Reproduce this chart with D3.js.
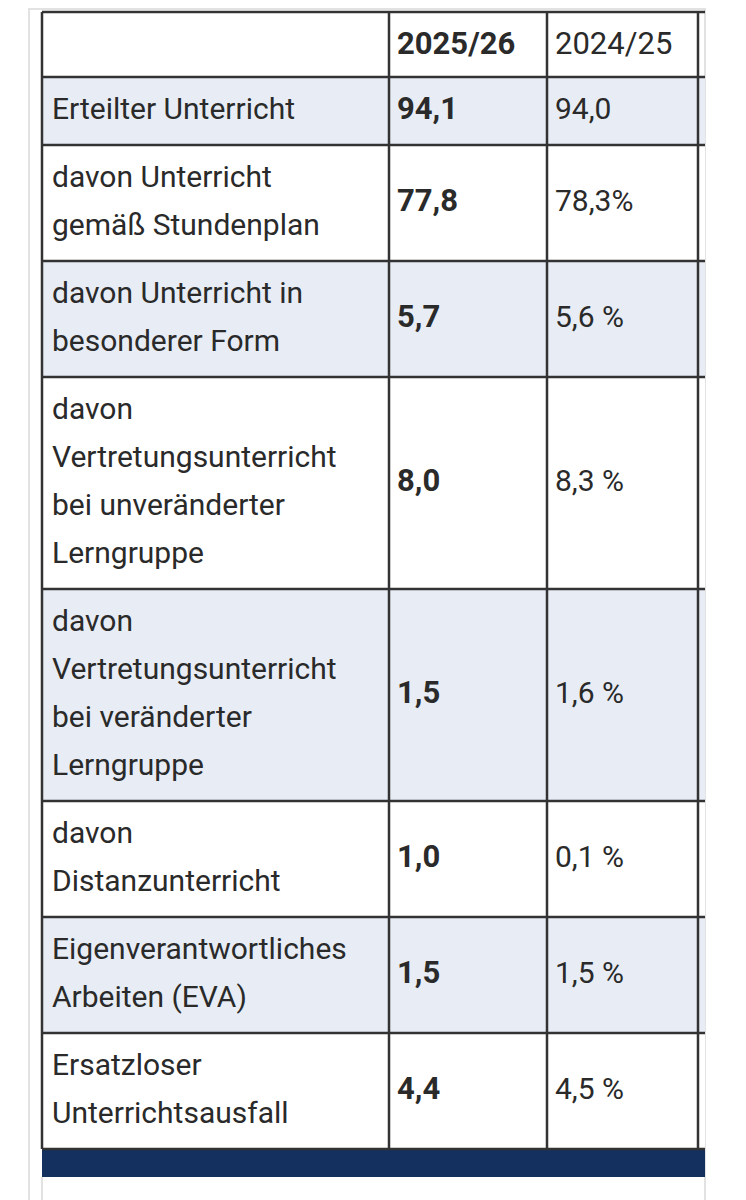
<!DOCTYPE html>
<html><head><meta charset="utf-8">
<script src="https://cdn.jsdelivr.net/npm/d3@7"></script>
<style>body{margin:0;background:#fff}</style>
</head><body><svg id="c" width="746" height="1200"></svg>
<script>
const headers = ["", "2025/26", "2024/25"];
const labels = [
  ["Erteilter Unterricht"],
  ["davon Unterricht", "gemäß Stundenplan"],
  ["davon Unterricht in", "besonderer Form"],
  ["davon", "Vertretungsunterricht", "bei unveränderter", "Lerngruppe"],
  ["davon", "Vertretungsunterricht", "bei veränderter", "Lerngruppe"],
  ["davon", "Distanzunterricht"],
  ["Eigenverantwortliches", "Arbeiten (EVA)"],
  ["Ersatzloser", "Unterrichtsausfall"]
];
const current = ["94,1", "77,8", "5,7", "8,0", "1,5", "1,0", "1,5", "4,4"];
const previous = ["94,0", "78,3%", "5,6 %", "8,3 %", "1,6 %", "0,1 %", "1,5 %", "4,5 %"];

const font = "'Liberation Sans Narrow', 'Roboto', sans-serif";
const svg = d3.select("#c");
const colX = [42, 389, 547, 698, 705];
const tableTop = 12, headH = 65, lineH = 48;

// row extents from line counts
let y = tableTop + headH;
const rows = labels.map((l, i) => {
  const h = 20 + lineH * l.length;
  const r = {i, y0: y, h};
  y += h;
  return r;
});
const bottom = y;

// outer light frame
svg.append("rect").attr("x", 29).attr("y", 9).attr("width", 676).attr("height", 1200)
  .attr("fill", "none").attr("stroke", "#e2e2e2").attr("stroke-width", 2);

svg.selectAll(".bg").data(rows).join("rect")
  .attr("x", colX[0]).attr("y", d => d.y0).attr("width", colX[4] - colX[0]).attr("height", d => d.h)
  .attr("fill", d => d.i % 2 === 0 ? "#e8edf5" : "#fff");

// navy footer bar
svg.append("rect").attr("x", colX[0]).attr("y", bottom).attr("width", colX[4] - colX[0]).attr("height", 28)
  .attr("fill", "#13305f");
svg.append("line").attr("x1", colX[0]).attr("x2", colX[0]).attr("y1", bottom + 28).attr("y2", 1200)
  .attr("stroke", "#e2e2e2").attr("stroke-width", 2);

// grid lines
const hy = [tableTop, tableTop + headH].concat(rows.map(r => r.y0 + r.h));
svg.selectAll(".hl").data(hy).join("line")
  .attr("x1", colX[0]).attr("x2", colX[4]).attr("y1", d => d).attr("y2", d => d)
  .attr("stroke", "#333").attr("stroke-width", 2.5);
svg.selectAll(".vl").data(colX.slice(0, 4)).join("line")
  .attr("x1", d => d).attr("x2", d => d).attr("y1", tableTop).attr("y2", bottom)
  .attr("stroke", "#333").attr("stroke-width", 2.5);

// header
svg.selectAll(".h").data(headers).join("text")
  .attr("x", (d, i) => colX[i] + 8).attr("y", tableTop + headH / 2 + 1)
  .attr("dominant-baseline", "middle").attr("font-family", font).attr("font-size", 31)
  .attr("font-weight", (d, i) => i === 1 ? "bold" : "normal").attr("fill", "#2a2a2a").text(d => d);

// labels
rows.forEach(r => {
  const l = labels[r.i];
  const cy = r.y0 + r.h / 2;
  svg.append("g").selectAll("text").data(l).join("text")
    .attr("x", colX[0] + 10).attr("y", (d, k) => cy + (k - (l.length - 1) / 2) * lineH)
    .attr("dominant-baseline", "middle").attr("font-family", font).attr("font-size", 30)
    .attr("fill", "#2a2a2a").text(d => d);
  svg.append("text").attr("x", colX[1] + 8).attr("y", cy).attr("dominant-baseline", "middle")
    .attr("font-family", font).attr("font-size", 31).attr("font-weight", "bold")
    .attr("fill", "#2a2a2a").text(current[r.i]);
  svg.append("text").attr("x", colX[2] + 8).attr("y", cy).attr("dominant-baseline", "middle")
    .attr("font-family", font).attr("font-size", 30)
    .attr("fill", "#2a2a2a").text(previous[r.i]);
});
</script></body></html>
